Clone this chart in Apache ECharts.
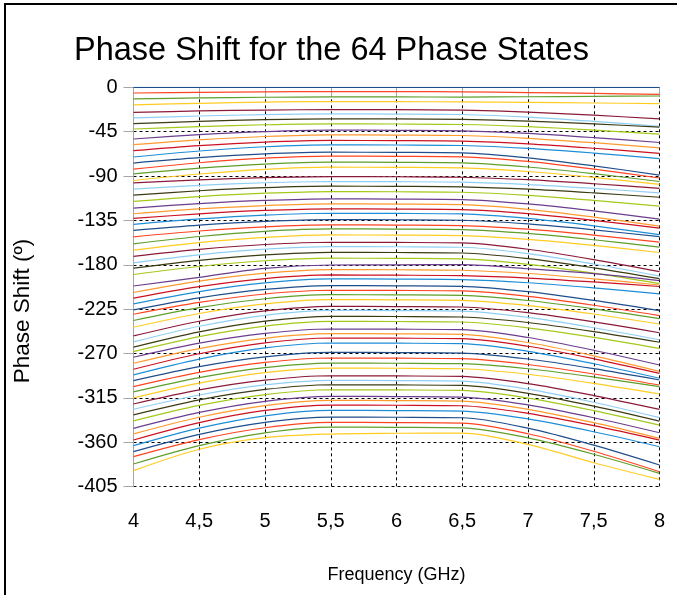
<!DOCTYPE html>
<html>
<head>
<meta charset="utf-8">
<script src="https://cdn.jsdelivr.net/npm/echarts@6/dist/echarts.min.js"></script>
<style>
  html, body { margin: 0; padding: 0; background: #fff; }
  #chart { width: 677px; height: 595px; }
</style>
</head>
<body>
<div id="chart"></div>
<script>
// frequencies (GHz) where the phase of each state was read
var freqs = [4, 4.5, 5, 5.5, 6, 6.5, 7, 7.5, 8];
var yTicks = [0, -45, -90, -135, -180, -225, -270, -315, -360, -405];

// phase shift (deg) of each of the 64 states
var state1 = [0, 0, 0, 0, 0, 0, 0, 0, 0];
var state2 = [-5.8, -5.1, -4.6, -4.3, -4.4, -4.6, -5.3, -6.2, -7.2];
var state3 = [-11.8, -10.8, -10.1, -9.8, -9.8, -9.9, -9.6, -9.2, -8.8];
var state4 = [-17.9, -16.2, -15, -14.4, -14.5, -14.8, -15.3, -15.9, -16.5];
var state5 = [-25.4, -24, -23.1, -22.6, -22.7, -23.2, -25.1, -28.3, -32];
var state6 = [-31.1, -29.1, -27.7, -27, -27.1, -27.6, -30.2, -34.5, -39.5];
var state7 = [-36.9, -34.5, -32.8, -32, -32.1, -32.6, -34.3, -37.1, -40.3];
var state8 = [-42.3, -39.8, -38, -37.1, -37.2, -37.7, -39.9, -43.4, -47.5];
var state9 = [-52.4, -48, -44.9, -43.4, -43.6, -44.1, -46.7, -51, -56];
var state10 = [-58.2, -53.3, -49.9, -48.2, -48.4, -48.9, -51.7, -56.2, -61.5];
var state11 = [-64.3, -59.2, -55.6, -53.9, -54.1, -54.6, -57.3, -61.8, -67];
var state12 = [-70.7, -64.6, -60.3, -58.3, -58.5, -59, -61.9, -66.7, -72.3];
var state13 = [-76.8, -71.4, -67.6, -65.8, -66, -66.5, -71.5, -79.6, -89];
var state14 = [-82.9, -76.5, -71.9, -69.8, -70, -70.5, -75.2, -83, -92];
var state15 = [-87.8, -82, -77.9, -75.9, -76.1, -76.6, -80.8, -87.6, -95.5];
var state16 = [-94.5, -87.9, -83.2, -81, -81.2, -81.7, -85.4, -91.4, -98.5];
var state17 = [-97, -93.9, -91.6, -90.5, -90.7, -91.2, -93.7, -97.8, -102.5];
var state18 = [-103.2, -99.5, -96.8, -95.5, -95.7, -96.2, -98.6, -102.5, -107];
var state19 = [-109.3, -104.9, -101.8, -100.3, -100.5, -101, -103.3, -107.1, -111.5];
var state20 = [-115.7, -110.8, -107.4, -105.7, -105.9, -106.4, -109.5, -114.6, -120.5];
var state21 = [-122.5, -117.9, -114.7, -113.1, -113.3, -113.8, -118.2, -125.3, -133.6];
var state22 = [-128.2, -123.3, -119.9, -118.2, -118.4, -118.9, -123.7, -131.6, -140.8];
var state23 = [-133, -128.3, -124.9, -123.3, -123.5, -124, -128.1, -134.9, -142.8];
var state24 = [-139, -133.5, -129.6, -127.7, -127.9, -128.4, -133, -140.5, -149.3];
var state25 = [-145.1, -139.7, -135.9, -134.1, -134.3, -134.8, -138.5, -144.5, -151.5];
var state26 = [-151.6, -145.7, -141.5, -139.5, -139.7, -140.2, -143.9, -149.9, -157];
var state27 = [-158.7, -151.3, -146, -143.6, -143.8, -144.3, -148.2, -154.6, -162];
var state28 = [-165.1, -157.5, -152.2, -149.7, -149.9, -150.4, -154.2, -160.3, -167.5];
var state29 = [-171.5, -164.4, -159.4, -157.1, -157.3, -157.8, -164.2, -174.7, -187];
var state30 = [-178, -169.9, -164.1, -161.5, -161.7, -162.2, -168.6, -179.2, -191.5];
var state31 = [-183.4, -175.5, -169.9, -167.3, -167.5, -168, -173.7, -183.1, -194];
var state32 = [-189.8, -181.7, -175.9, -173.3, -173.5, -174, -179.5, -188.5, -199];
var state33 = [-201.5, -192.7, -183.6, -180.2, -180, -179.8, -184, -189, -196];
var state34 = [-208.1, -196.6, -188.5, -184.8, -185, -185.5, -188.8, -194.2, -200.5];
var state35 = [-213.8, -202.2, -194, -190.3, -190.5, -191, -193.4, -197.4, -202];
var state36 = [-219.6, -207.1, -198.3, -194.3, -194.5, -195, -198.2, -203.4, -209.4];
var state37 = [-225.7, -213.5, -205, -201.1, -201.3, -201.8, -207.2, -216.1, -226.5];
var state38 = [-230.1, -218.1, -209.6, -205.8, -206, -206.5, -212, -221, -231.5];
var state39 = [-236.5, -223.5, -214.4, -210.3, -210.5, -211, -216.2, -224.6, -234.5];
var state40 = [-243.3, -229.4, -219.7, -215.3, -215.5, -216, -221.3, -229.9, -240];
var state41 = [-252.1, -237.2, -226.8, -222.1, -222.3, -222.8, -228.5, -237.9, -248.9];
var state42 = [-258.2, -242.3, -231.2, -226.2, -226.4, -226.9, -233.3, -243.8, -256];
var state43 = [-263.5, -248, -237.1, -232.2, -232.4, -232.9, -238.5, -247.7, -258.5];
var state44 = [-268, -252.8, -242.1, -237.3, -237.5, -238, -243.9, -253.5, -264.7];
var state45 = [-273.7, -259.5, -249.6, -245.1, -245.3, -245.8, -253.7, -266.6, -281.6];
var state46 = [-279.8, -264.9, -254.5, -249.8, -250, -250.5, -258.8, -272.3, -288];
var state47 = [-285.9, -270.2, -259.1, -254.2, -254.4, -254.9, -262.6, -275.3, -290];
var state48 = [-291.6, -275.6, -264.3, -259.3, -259.5, -260, -267.7, -280.3, -295];
var state49 = [-297.4, -283.2, -273.3, -268.8, -269, -269.5, -275.5, -285.3, -296.8];
var state50 = [-303.5, -289.1, -279, -274.5, -274.7, -275.2, -281.1, -290.7, -301.9];
var state51 = [-308.9, -294.4, -284.2, -279.6, -279.8, -280.3, -285.4, -293.8, -303.6];
var state52 = [-315, -300, -289.4, -284.7, -284.9, -285.4, -291, -300.2, -311];
var state53 = [-321.1, -306.9, -297, -292.5, -292.7, -293.2, -300.5, -312.6, -326.6];
var state54 = [-326.5, -312, -301.8, -297.2, -297.4, -297.9, -306.1, -319.4, -335];
var state55 = [-332.2, -317, -306.4, -301.6, -301.8, -302.3, -310.3, -323.3, -338.5];
var state56 = [-338.3, -322.6, -311.6, -306.7, -306.9, -307.4, -315.1, -327.8, -342.5];
var state57 = [-345.8, -329.7, -318.4, -313.4, -313.6, -314.1, -322.1, -335.1, -350.3];
var state58 = [-351.5, -334.6, -322.8, -317.5, -317.7, -318.2, -326.5, -340.1, -356];
var state59 = [-357.6, -340, -327.7, -322.2, -322.4, -322.9, -330.6, -343.1, -357.7];
var state60 = [-363.4, -345.6, -333.1, -327.6, -327.8, -328.3, -336.3, -349.3, -364.5];
var state61 = [-369.5, -352, -339.8, -334.4, -334.6, -335.1, -345.6, -362.9, -383];
var state62 = [-374.5, -357.2, -345.2, -339.8, -340, -340.5, -351.3, -369.1, -389.8];
var state63 = [-382, -363.4, -350.4, -344.6, -344.8, -345.3, -355.5, -372.1, -391.5];
var state64 = [-388.7, -367, -355.3, -351.6, -350.8, -350.6, -362, -380.7, -397.6];

var states = [
  state1, state2, state3, state4, state5, state6, state7, state8,
  state9, state10, state11, state12, state13, state14, state15, state16,
  state17, state18, state19, state20, state21, state22, state23, state24,
  state25, state26, state27, state28, state29, state30, state31, state32,
  state33, state34, state35, state36, state37, state38, state39, state40,
  state41, state42, state43, state44, state45, state46, state47, state48,
  state49, state50, state51, state52, state53, state54, state55, state56,
  state57, state58, state59, state60, state61, state62, state63, state64
];

// colour cycle used by the lines, repeating every 12 states
var lineColors = ['#1f4e8c', '#ff4422', '#5e9e2a', '#ffcc22', '#8b1a3a', '#8fcff5',
                  '#3b3b14', '#a3c91a', '#6b3d8e', '#ff9a2e', '#cc1122', '#1e8ed8'];

var font = 'Liberation Sans, Arial, sans-serif';

var series = states.map(function (vals, i) {
  return {
    name: 'State ' + (i + 1),
    type: 'line',
    data: freqs.map(function (f, j) { return [f, vals[j]]; }),
    smooth: 0.3,
    showSymbol: false,
    silent: true,
    lineStyle: { width: 1.2, color: lineColors[i % lineColors.length] },
    z: 3
  };
});

var myChart = echarts.init(document.getElementById('chart'));
var option = {
  animation: false,
  backgroundColor: '#fff',
  title: {
    text: 'Phase Shift for the 64 Phase States',
    left: 69,
    top: 30,
    textStyle: { fontFamily: font, fontSize: 32.5, fontWeight: 'normal', color: '#000' }
  },
  graphic: [{
    type: 'rect',
    shape: { x: 5, y: 4, width: 720, height: 640 },
    style: { fill: 'none', stroke: '#000', lineWidth: 2 },
    silent: true
  }],
  grid: { left: 133.5, right: 17.5, top: 87.3, bottom: 108.3 },
  xAxis: {
    type: 'value',
    min: 4,
    max: 8,
    interval: 0.5,
    name: 'Frequency (GHz)',
    nameLocation: 'middle',
    nameGap: 79,
    nameTextStyle: { fontFamily: font, fontSize: 18, color: '#000' },
    axisLine: { show: true, lineStyle: { color: '#a6a6a6', width: 1 } },
    axisTick: { show: true, length: 10, lineStyle: { color: '#a6a6a6' } },
    axisLabel: {
      margin: 25,
      fontFamily: font, fontSize: 20, color: '#000',
      formatter: function (v) { return String(v).replace('.', ','); }
    },
    splitLine: { show: true, lineStyle: { color: '#000', type: [3, 3], width: 1 } }
  },
  yAxis: {
    type: 'value',
    min: -405,
    max: 0,
    interval: 45,
    name: 'Phase Shift (º)',
    nameLocation: 'middle',
    nameGap: 99,
    nameTextStyle: { fontFamily: font, fontSize: 22.5, color: '#000', padding: [0, 48, 0, 0] },
    axisLine: { show: true, lineStyle: { color: '#a6a6a6', width: 1 } },
    axisTick: { show: true, length: 10, lineStyle: { color: '#a6a6a6' } },
    axisLabel: {
      margin: 16,
      fontFamily: font, fontSize: 20, color: '#000',
      customValues: yTicks
    },
    splitLine: { show: true, lineStyle: { color: '#000', type: [3, 3], width: 1 } }
  },
  series: series
};
myChart.setOption(option);
</script>
</body>
</html>
